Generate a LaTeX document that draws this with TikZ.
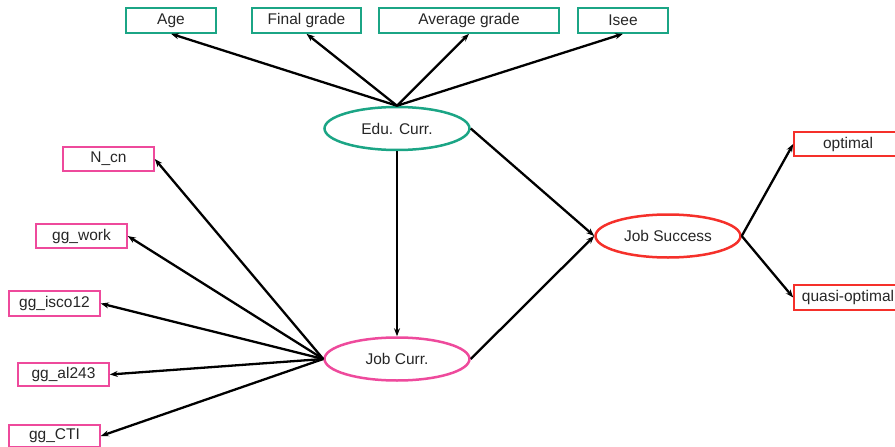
\documentclass[tikz,border=0pt]{standalone}
\usepackage{fontspec}
\setmainfont{Liberation Sans}
\usetikzlibrary{arrows.meta,shapes.geometric}
\definecolor{tealc}{HTML}{1BA585}
\definecolor{pinkc}{HTML}{EE4A9C}
\definecolor{redc}{HTML}{F5302A}
\begin{document}
\begin{tikzpicture}[x=1pt,y=-1pt,
  every node/.style={font=\fontsize{15.5}{18}\selectfont, text=black!85},
  boxnode/.style={draw, rectangle, line width=1.6pt, minimum width=90pt, minimum height=25pt, inner sep=0pt},
  ellnode/.style={draw, ellipse, line width=2.5pt, minimum width=145pt, minimum height=43pt, inner sep=0pt},
  conn/.style={line width=2.3pt, -{Stealth[length=8pt,width=6pt]}}]
\useasboundingbox (0,0) rectangle (895,447);
% top boxes
\node[boxnode, draw=tealc] (age) at (171,20.5) {Age};
\node[boxnode, draw=tealc, minimum width=109pt] (final) at (306.5,20.5) {Final grade};
\node[boxnode, draw=tealc, minimum width=180pt] (avg) at (469,20.5) {Average grade};
\node[boxnode, draw=tealc] (isee) at (623,20.5) {Isee};
% ellipses
\node[ellnode, draw=tealc] (edu) at (397,128.5) {Edu. Curr.};
\node[ellnode, draw=pinkc] (job) at (397,359) {Job Curr.};
\node[ellnode, draw=redc] (succ) at (668,236) {Job Success};
% left boxes
\node[boxnode, draw=pinkc, minimum width=91pt, minimum height=24pt] (ncn) at (108.5,159) {N\_cn};
\node[boxnode, draw=pinkc, minimum width=91pt, minimum height=24pt] (work) at (81.5,236) {gg\_work};
\node[boxnode, draw=pinkc, minimum width=91pt, minimum height=25pt] (isco) at (54.5,303.5) {gg\_isco12};
\node[boxnode, draw=pinkc, minimum width=91pt, minimum height=23pt] (al) at (63.5,374.5) {gg\_al243};
\node[boxnode, draw=pinkc, minimum width=91pt, minimum height=22pt] (cti) at (54.5,436) {gg\_CTI};
% right boxes
\node[boxnode, draw=redc, minimum width=108pt, minimum height=24pt] (opt) at (848,144) {optimal};
\node[boxnode, draw=redc, minimum width=108pt, minimum height=25pt] (qopt) at (848,297.5) {quasi-optimal};
% connectors
\draw[conn] (edu.north) -- (age.south);
\draw[conn] (edu.north) -- (final.south);
\draw[conn] (edu.north) -- (avg.south);
\draw[conn] (edu.north) -- (isee.south);
\draw[conn] (edu.south) -- (job.north);
\draw[conn] (edu.east) -- (succ.west);
\draw[conn] (job.east) -- (succ.west);
\draw[conn] (job.west) -- (ncn.east);
\draw[conn] (job.west) -- (work.east);
\draw[conn] (job.west) -- (isco.east);
\draw[conn] (job.west) -- (al.east);
\draw[conn] (job.west) -- (cti.east);
\draw[conn] (succ.east) -- (opt.west);
\draw[conn] (succ.east) -- (qopt.west);
\end{tikzpicture}
\end{document}
